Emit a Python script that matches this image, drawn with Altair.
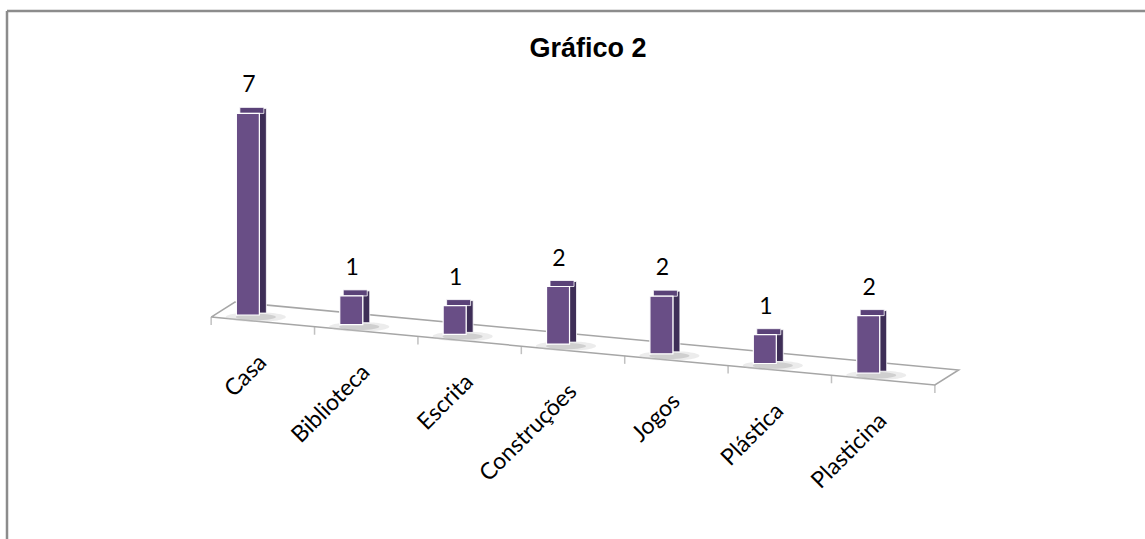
import altair as alt
import pandas as pd

# ---- data ----
categories = ["Casa", "Biblioteca", "Escrita", "Construções", "Jogos", "Plástica", "Plasticina"]
values = [7, 1, 1, 2, 2, 1, 2]
title_text = "Gráfico 2"

# ---- layout constants (pixels) ----
W, H = 1145, 539
PX = 104.3      # pixels per category step
PY = 28.8       # pixels per value unit
X0 = 245.0      # pixel x of first bar centre
Y0 = 315.0      # pixel y of first bar base
SKEW = 9.7      # floor drop per category (px)

x_dom = [-X0 / PX, (W - X0) / PX]
y_dom = [(Y0 - H) / PY, Y0 / PY]
xs = alt.Scale(domain=x_dom, range=[0, W], nice=False, zero=False)
ys = alt.Scale(domain=y_dom, range=[H, 0], nice=False, zero=False)

df = pd.DataFrame({"idx": list(range(len(categories))), "cat": categories, "val": values})

base = alt.Chart(df).transform_calculate(
    b=f"-datum.idx*{SKEW}/{PY}",
).transform_calculate(
    t="datum.b + datum.val"
)

FRONT = "#694e86"
SIDE = "#3e2e57"
TOP = "#5a4278"

X = alt.X("idx:Q", scale=xs, axis=None)

# floor polygon
n = len(categories)
floor = pd.DataFrame({
    "u": [-0.355, n - 0.355, n - 0.125, -0.125, -0.355],
    "off": [5.5, 5.5, -11.7, -11.7, 5.5],
    "o": [0, 1, 2, 3, 4],
})
floor_line = alt.Chart(floor).transform_calculate(
    Y=f"-(datum.u*{SKEW} + datum.off)/{PY}"
).mark_line(color="#a6a6a6", strokeWidth=1.5).encode(
    x=alt.X("u:Q", scale=xs, axis=None),
    y=alt.Y("Y:Q", scale=ys, axis=None),
    order="o:Q",
)

ticks = pd.DataFrame({"u": [k - 0.355 for k in range(n + 1)]})
floor_ticks = alt.Chart(ticks).transform_calculate(
    Y=f"-(datum.u*{SKEW} + 5.5)/{PY}"
).mark_tick(orient="vertical", size=8, yOffset=4, color="#a6a6a6", thickness=1.5).encode(
    x=alt.X("u:Q", scale=xs, axis=None),
    y=alt.Y("Y:Q", scale=ys, axis=None),
)

# soft shadows on floor
ELLIPSE = "M -1 0 A 1 0.16 0 1 0 1 0 A 1 0.16 0 1 0 -1 0 Z"
shadow_outer = base.mark_point(shape=ELLIPSE, filled=True, color="#c8c8c8", opacity=0.35,
                               size=3600, xOffset=8, yOffset=2, strokeWidth=0).encode(
    x=X, y=alt.Y("b:Q", scale=ys, axis=None)
)
shadow_inner = base.mark_point(shape=ELLIPSE, filled=True, color="#9a9a9a", opacity=0.35,
                               size=1600, xOffset=8, yOffset=2, strokeWidth=0).encode(
    x=X, y=alt.Y("b:Q", scale=ys, axis=None)
)

side = base.mark_bar(size=7, color=SIDE, xOffset=15, yOffset=-5, y2Offset=-2,
                     stroke="white", strokeWidth=0.8).encode(
    x=X, y=alt.Y("t:Q", scale=ys, axis=None), y2="b:Q"
)
top = base.mark_bar(size=24, color=TOP, xOffset=4, yOffset=-6, y2Offset=0,
                    stroke="white", strokeWidth=0.8).encode(
    x=X, y=alt.Y("t:Q", scale=ys, axis=None), y2="t:Q"
)
front = base.mark_bar(size=23, color=FRONT, stroke="white", strokeWidth=1.2).encode(
    x=X, y=alt.Y("t:Q", scale=ys, axis=None), y2="b:Q"
)

vlabels = base.mark_text(font="Lato", fontSize=23, color="black", align="center",
                         baseline="alphabetic", yOffset=-21, xOffset=1).encode(
    x=X, y=alt.Y("t:Q", scale=ys, axis=None), text="val:Q"
)

clabels = base.mark_text(font="Lato", fontSize=23, color="black", angle=315,
                         align="right", baseline="middle", xOffset=15, yOffset=44).encode(
    x=X, y=alt.Y("b:Q", scale=ys, axis=None), text="cat:N"
)

title = alt.Chart(pd.DataFrame({"t": [title_text]})).mark_text(
    font="Liberation Sans", fontSize=27, fontWeight="bold", color="black",
    align="center", baseline="alphabetic"
).encode(x=alt.value(588), y=alt.value(57), text="t:N")

border_top = alt.Chart(pd.DataFrame({"a": [0]})).mark_rule(color="#8c8c8c", strokeWidth=2.5).encode(
    x=alt.value(7), x2=alt.value(W), y=alt.value(11)
)
border_left = alt.Chart(pd.DataFrame({"a": [0]})).mark_rule(color="#8c8c8c", strokeWidth=2.5).encode(
    x=alt.value(7), y=alt.value(11), y2=alt.value(H)
)

chart = alt.layer(
    border_top, border_left, floor_line, floor_ticks, shadow_outer, shadow_inner,
    side, top, front, vlabels, clabels, title
).properties(
    width=W, height=H, padding=0, autosize=alt.AutoSizeParams(type="none"),
    background="white"
).configure_view(stroke=None)

chart.save("out.html", embed_options={"renderer": "svg", "actions": False})
